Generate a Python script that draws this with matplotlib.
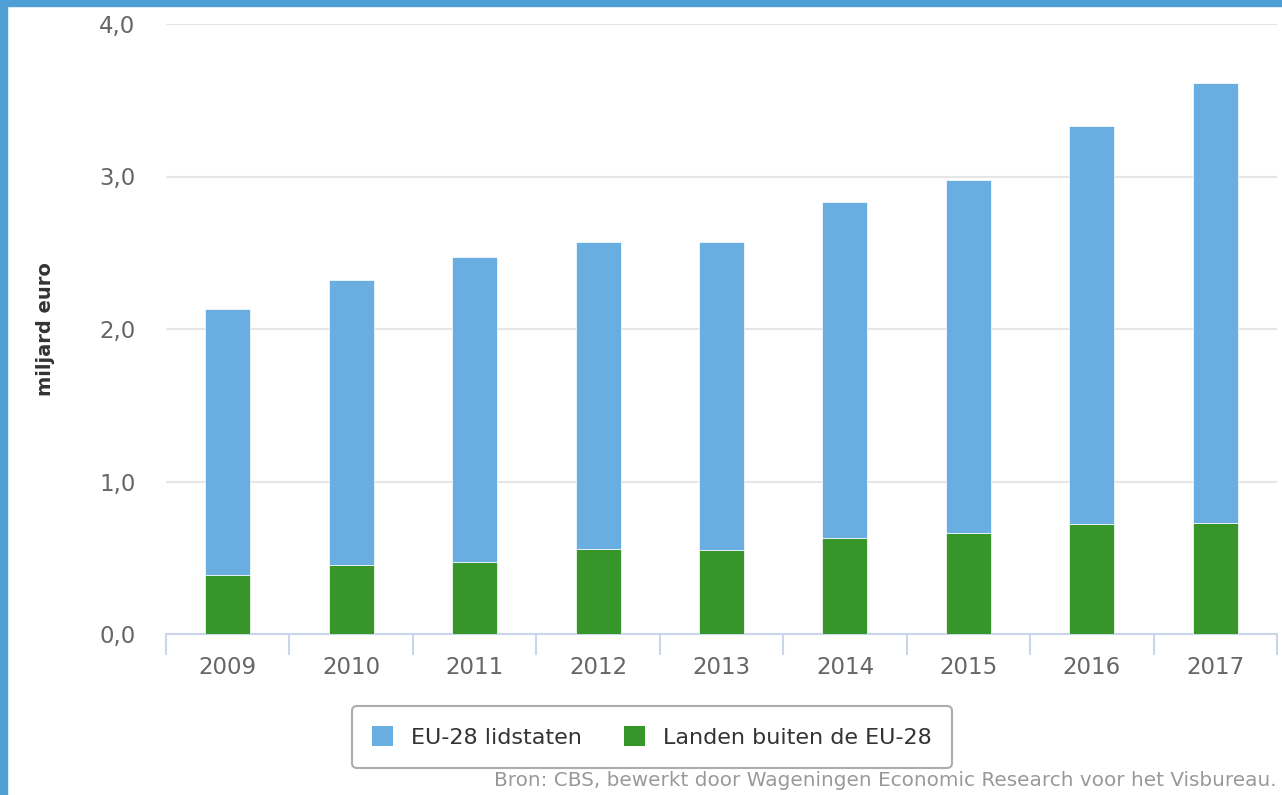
import matplotlib.pyplot as plt
from matplotlib.patches import Rectangle, Patch
from matplotlib.ticker import FuncFormatter
import numpy as np

years = ["2009", "2010", "2011", "2012", "2013", "2014", "2015", "2016", "2017"]
buiten_eu = [0.39, 0.45, 0.47, 0.56, 0.55, 0.63, 0.66, 0.72, 0.73]
eu28 = [1.74, 1.87, 2.00, 2.01, 2.02, 2.20, 2.32, 2.61, 2.88]

blue = "#69aee0"
green = "#36962a"

fig = plt.figure(figsize=(12.82, 7.95), dpi=100)
ax = fig.add_axes([166 / 1282, 161 / 795, 1111 / 1282, 610 / 795])

x = np.arange(len(years))
ax.bar(x, buiten_eu, width=0.365, color=green, edgecolor="white", linewidth=0.5, zorder=3)
ax.bar(x, eu28, bottom=buiten_eu, width=0.365, color=blue, edgecolor="white", linewidth=0.5, zorder=3)

ax.set_xlim(-0.5, len(years) - 0.5)
ax.set_ylim(0, 4)
ax.set_yticks([0, 1, 2, 3, 4])
ax.yaxis.set_major_formatter(FuncFormatter(lambda v, p: f"{v:.1f}".replace(".", ",")))
ax.grid(axis="y", color="#e6e6e6", linewidth=1.5, zorder=0)

for s in ["top", "right", "left"]:
    ax.spines[s].set_visible(False)
ax.spines["bottom"].set_color("#ccd6eb")
ax.spines["bottom"].set_linewidth(1.5)

ax.set_xticks(x)
ax.set_xticklabels(years)
ax.set_xticks(np.arange(len(years) + 1) - 0.5, minor=True)
ax.tick_params(axis="x", which="major", length=0, pad=16, labelsize=16.5, labelcolor="#666666")
ax.tick_params(axis="x", which="minor", length=15, width=1.5, color="#ccd6eb")
ax.tick_params(axis="y", length=0, pad=22, labelsize=16.5, labelcolor="#666666")

ax.set_ylabel("miljard euro", fontsize=14, fontweight="bold", color="#333333")
ax.yaxis.set_label_coords(-0.100, 0.5)

handles = [Patch(facecolor=blue, label="EU-28 lidstaten"),
           Patch(facecolor=green, label="Landen buiten de EU-28")]
leg = fig.legend(handles=handles, loc="center", bbox_to_anchor=(652 / 1282, 1 - 737 / 795),
                 ncol=2, fontsize=16, frameon=True, handlelength=0.95, handleheight=0.95,
                 columnspacing=1.9, handletextpad=0.8, borderpad=0.9, fancybox=True)
leg.get_frame().set_edgecolor("#999999")
leg.get_frame().set_linewidth(1.5)
for t in leg.get_texts():
    t.set_color("#333333")

fig.text(1277 / 1282, 1 - 781 / 795,
         "Bron: CBS, bewerkt door Wageningen Economic Research voor het Visbureau.",
         ha="right", va="center", fontsize=14.4, color="#999999")

# blue frame at top and left
fig.patches.append(Rectangle((0, 1 - 6 / 795), 1, 6 / 795, transform=fig.transFigure,
                             color="#4d9fd6", zorder=10))
fig.patches.append(Rectangle((0, 0), 7 / 1282, 1, transform=fig.transFigure,
                             color="#4d9fd6", zorder=10))

fig.savefig("out.png", dpi=100)
